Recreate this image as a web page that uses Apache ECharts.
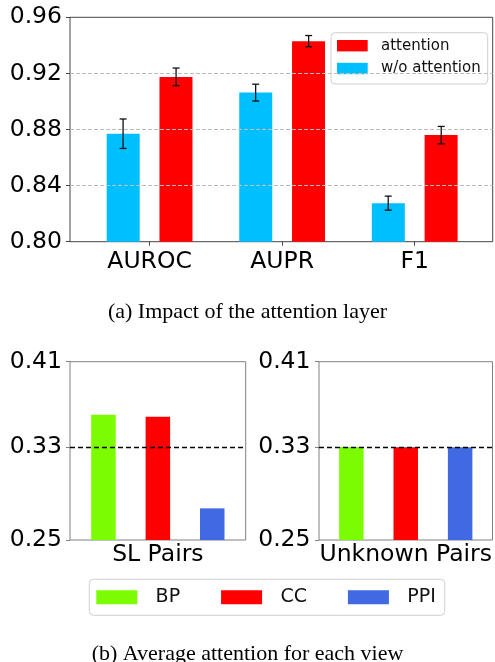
<!DOCTYPE html>
<html>
<head>
<meta charset="utf-8">
<style>
html,body{margin:0;padding:0;background:#fff;}
#chart{width:495px;height:662px;}
</style>
<script src="https://cdn.jsdelivr.net/npm/echarts@6/dist/echarts.min.js"></script>
</head>
<body>
<div id="chart"></div>
<script>
// ---------- data: (a) Impact of the attention layer ----------
var metrics = ['AUROC', 'AUPR', 'F1'];
var withAttention = [0.9175, 0.943, 0.876];
var withAttentionErr = [0.0063, 0.004, 0.0062];
var withoutAttention = [0.877, 0.9063, 0.8275];
var withoutAttentionErr = [0.0105, 0.006, 0.005];
var topTicks = [0.80, 0.84, 0.88, 0.92, 0.96];
var topGridLines = [0.84, 0.88, 0.92];

// ---------- data: (b) Average attention for each view ----------
var views = ['BP', 'CC', 'PPI'];
var slPairs = [0.3625, 0.3607, 0.2784];
var unknownPairs = [0.3335, 0.3333, 0.3332];
var bottomTicks = [0.25, 1 / 3, 0.41];
var uniformLine = 1 / 3;

var captionA = '(a) Impact of the attention layer';
var captionB = '(b) Average attention for each view';

var FONT = 'DejaVu Sans';
var cBlue = '#00BFFF', cRed = '#FF0000';
var viewColors = ['#7CFC00', '#FF0000', '#4169E1'];

var chart = echarts.init(document.getElementById('chart'), null, {renderer: 'canvas'});

function errSeries(name, vals, errs, offset) {
  return {
    type: 'custom', name: name + '_err', xAxisIndex: 1, yAxisIndex: 1, z: 5, silent: true,
    data: vals.map(function (v, i) { return [i, v, errs[i]]; }),
    renderItem: function (params, api) {
      var i = api.value(0), v = api.value(1), e = api.value(2);
      var p1 = api.coord([i, v + e]), p2 = api.coord([i, v - e]);
      var x = p1[0] + offset, cap = 3.5;
      var st = {stroke: '#111', lineWidth: 1.3};
      return {type: 'group', children: [
        {type: 'line', shape: {x1: x, y1: p1[1], x2: x, y2: p2[1]}, style: st},
        {type: 'line', shape: {x1: x - cap, y1: p1[1], x2: x + cap, y2: p1[1]}, style: st},
        {type: 'line', shape: {x1: x - cap, y1: p2[1], x2: x + cap, y2: p2[1]}, style: st}
      ]};
    }
  };
}

var yLabelStyle = {fontFamily: FONT, fontSize: 23.5, color: '#000'};

var series = [
  // gridlines of (a), drawn on the frame grid behind bars
  {type: 'line', name: '_grid', xAxisIndex: 0, yAxisIndex: 0, data: [], z: 1, silent: true,
   markLine: {silent: true, symbol: ['none', 'none'], label: {show: false}, precision: 10,
     lineStyle: {color: '#bdbdbd', type: [4, 2], width: 1},
     data: topGridLines.map(function (v) { return {yAxis: v}; })}},
  {type: 'bar', name: 'w/o attention', xAxisIndex: 1, yAxisIndex: 1, data: withoutAttention,
   barWidth: 33, barGap: '60%', itemStyle: {color: cBlue}, z: 2},
  {type: 'bar', name: 'attention', xAxisIndex: 1, yAxisIndex: 1, data: withAttention,
   barWidth: 33, barGap: '60%', itemStyle: {color: cRed}, z: 2},
  errSeries('w/o attention', withoutAttention, withoutAttentionErr, -26.5),
  errSeries('attention', withAttention, withAttentionErr, 26.5)
];

[slPairs, unknownPairs].forEach(function (vals, g) {
  views.forEach(function (v, k) {
    var s = {type: 'bar', name: v, xAxisIndex: 2 + g, yAxisIndex: 2 + g, data: [vals[k]],
      barWidth: 24.5, barGap: '122%', itemStyle: {color: viewColors[k]}, z: k === 2 ? 3 : 2};
    if (k === 2) {
      s.markLine = {silent: true, symbol: ['none', 'none'], label: {show: false}, precision: 10,
        lineStyle: {color: '#000', type: [5, 3], width: 1.4},
        data: [{yAxis: uniformLine}]};
    }
    series.push(s);
  });
});

var option = {
  backgroundColor: '#fff',
  animation: false,
  textStyle: {fontFamily: FONT},
  title: [
    {text: captionA, left: 'center', top: 296.5,
     textStyle: {fontFamily: 'Liberation Serif', fontSize: 22, fontWeight: 'normal', color: '#000'}},
    {text: captionB, left: 'center', top: 638.5,
     textStyle: {fontFamily: 'Liberation Serif', fontSize: 22, fontWeight: 'normal', color: '#000'}}
  ],
  grid: [
    {left: 70, top: 17.3, width: 422.7, height: 224.4, show: true, borderColor: '#444', borderWidth: 1, backgroundColor: 'transparent'},
    {left: 83.3, top: 17.3, width: 397.7, height: 224.4},
    {left: 70, top: 361.7, width: 175.7, height: 178.3, show: true, borderColor: '#808080', borderWidth: 1, backgroundColor: 'transparent'},
    {left: 319, top: 361.7, width: 175.3, height: 178.3, show: true, borderColor: '#808080', borderWidth: 1, backgroundColor: 'transparent'}
  ],
  xAxis: [
    {type: 'value', gridIndex: 0, min: 0, max: 1, show: false},
    {type: 'category', gridIndex: 1, data: metrics,
     axisLine: {show: false}, axisTick: {show: true, alignWithLabel: true, length: 4, lineStyle: {color: '#444'}},
     axisLabel: {fontFamily: FONT, fontSize: 23.5, color: '#000', margin: 8}, splitLine: {show: false}},
    {type: 'category', gridIndex: 2, data: ['SL Pairs'],
     axisLine: {show: false}, axisTick: {show: false},
     axisLabel: {fontFamily: FONT, fontSize: 23.5, color: '#000', margin: 3}},
    {type: 'category', gridIndex: 3, data: ['Unknown Pairs'],
     axisLine: {show: false}, axisTick: {show: false},
     axisLabel: {fontFamily: FONT, fontSize: 23.5, color: '#000', margin: 3}}
  ],
  yAxis: [
    {type: 'value', gridIndex: 0, min: topTicks[0], max: topTicks[topTicks.length - 1], interval: 0.04,
     axisLine: {show: false}, axisTick: {show: true, length: 4, lineStyle: {color: '#444'}},
     splitLine: {show: false},
     axisLabel: Object.assign({margin: 8, formatter: function (v) { return v.toFixed(2); }}, yLabelStyle)},
    {type: 'value', gridIndex: 1, min: topTicks[0], max: topTicks[topTicks.length - 1], show: false, splitLine: {show: false}},
    {type: 'value', gridIndex: 2, min: 0.25, max: 0.41,
     axisLine: {show: false}, splitLine: {show: false},
     axisTick: {show: true, length: 4, customValues: bottomTicks, lineStyle: {color: '#808080'}},
     axisLabel: Object.assign({margin: 8, customValues: bottomTicks, formatter: function (v) { return v.toFixed(2); }}, yLabelStyle)},
    {type: 'value', gridIndex: 3, min: 0.25, max: 0.41,
     axisLine: {show: false}, splitLine: {show: false},
     axisTick: {show: true, length: 4, customValues: bottomTicks, lineStyle: {color: '#808080'}},
     axisLabel: Object.assign({margin: 8.5, customValues: bottomTicks, formatter: function (v) { return v.toFixed(2); }}, yLabelStyle)}
  ],
  legend: [
    {data: ['attention', 'w/o attention'], orient: 'vertical', left: 331, top: 32.7,
     icon: 'rect', itemWidth: 30.7, itemHeight: 11.4, itemGap: 6.8,
     padding: [5, 7, 7.5, 6], borderColor: '#d0d0d0', borderWidth: 1, borderRadius: 4,
     backgroundColor: '#fff', selectedMode: false,
     textStyle: {fontFamily: FONT, fontSize: 15, color: '#111', lineHeight: 16, padding: [0, 0, 0, 8.3]}},
    {data: views, orient: 'horizontal', left: 89.3, top: 579.3,
     icon: 'rect', itemWidth: 41, itemHeight: 14, itemGap: 41,
     padding: [8, 9, 8, 7], borderColor: '#d0d0d0', borderWidth: 1, borderRadius: 4,
     backgroundColor: '#fff', selectedMode: false,
     textStyle: {fontFamily: FONT, fontSize: 19, color: '#111', lineHeight: 20, padding: [0, 0, 0, 13.3]}}
  ],
  series: series
};
chart.setOption(option);
</script>
</body>
</html>
